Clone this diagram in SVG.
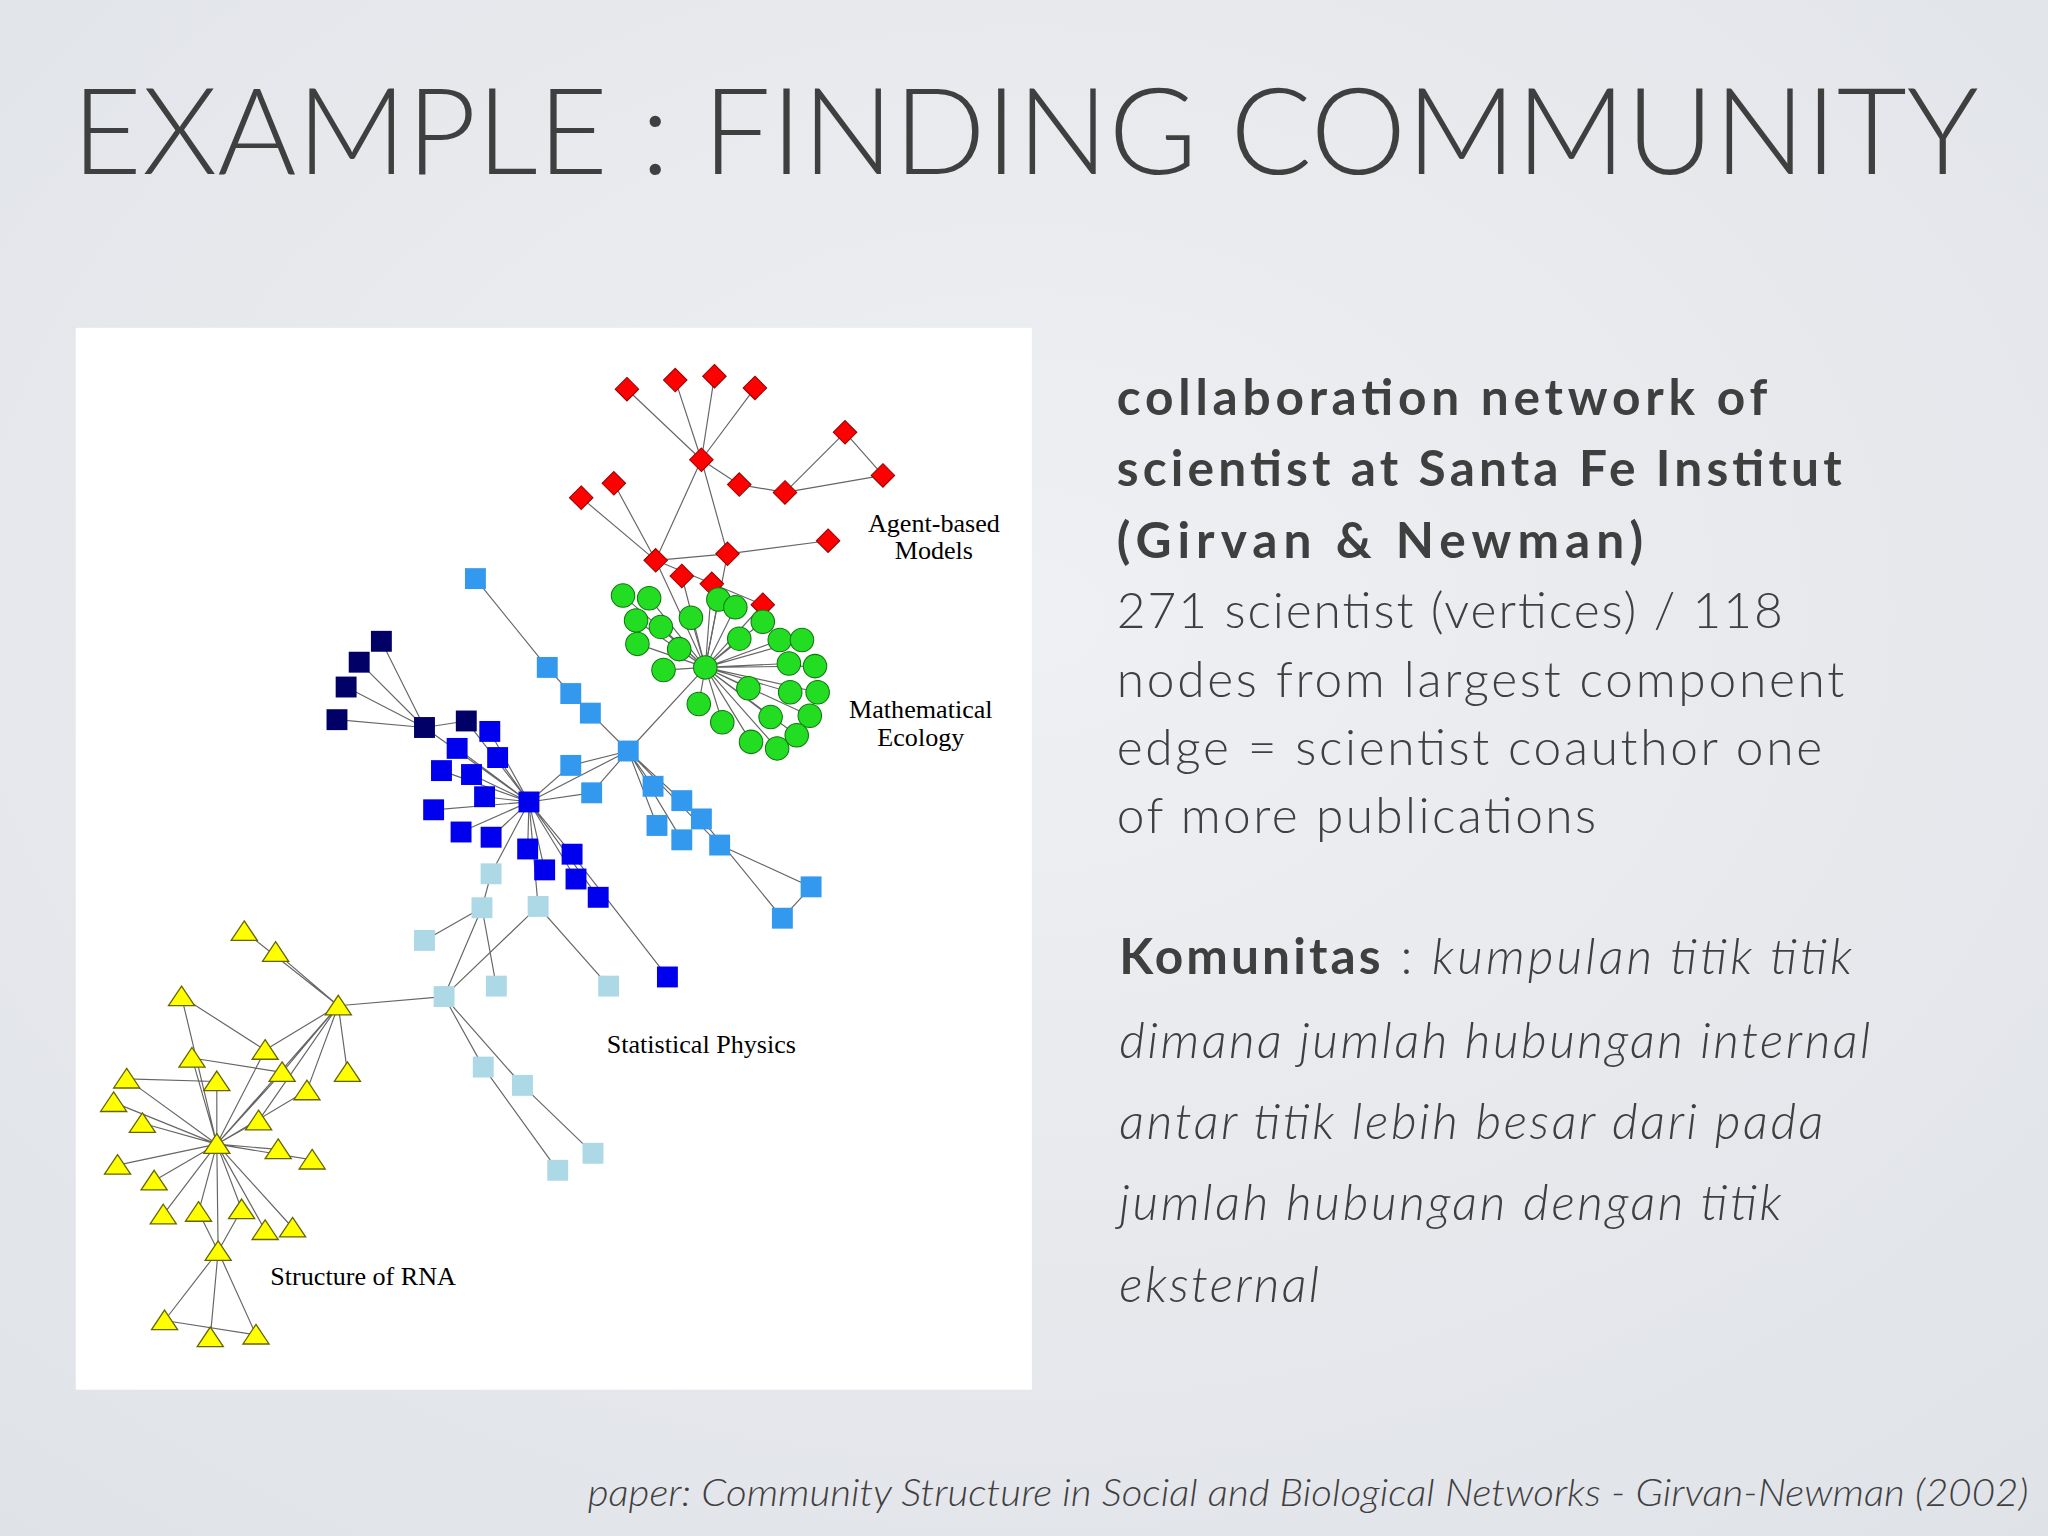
<svg xmlns="http://www.w3.org/2000/svg" width="2048" height="1536" viewBox="0 0 2048 1536">
<defs>
<radialGradient id="bg" cx="0.5" cy="0.4" r="0.8"><stop offset="0" stop-color="#eff0f3"/><stop offset="1" stop-color="#dfe2e7"/></radialGradient>
<polygon id="dia" points="0,-9 9,0 0,9 -9,0" fill="#ff0000" stroke="#990000" stroke-width="0.8"/>
<circle id="cir" r="9" fill="#22dd22" stroke="#117711" stroke-width="0.8"/>
<rect id="sq" x="-8" y="-8" width="16" height="16"/>
<polygon id="tri" points="0,-8 10,7 -10,7" fill="#ffff00" stroke="#666600" stroke-width="1"/>
</defs>
<style>
.t{font-family:"Lato","Open Sans",sans-serif;fill:#3f3f3f}
.lab{font-family:"Liberation Serif",serif;font-size:20px;fill:#000}
.e{stroke:#666;stroke-width:0.9;fill:none}
.nv{fill:#000066}.bl{fill:#0000ee}.mb{fill:#3399ee}.lb{fill:#add8e6}
</style>
<rect width="2048" height="1536" fill="url(#bg)"/>
<g transform="scale(1.30612)">
<text class="t" x="55" y="133" font-size="92" font-weight="300" textLength="1460" lengthAdjust="spacingAndGlyphs" fill="#4a4a4a">EXAMPLE : FINDING COMMUNITY</text>
<rect x="58" y="251" width="732" height="813" fill="#fff"/>
<g id="connectors">
<path class="e" d="M537,352L480,298M537,352L517,291M537,352L547,288M537,352L578,297M537,352L557,424M537,352L566,371M566,371L601,377M601,377L647,331M647,331L676,364M601,377L676,364M502,429L445,381M502,429L470,370M502,429L537,352M557,424L634,414M557,424L502,429M540,511L502,429M540,511L522,441M540,511L545,447M540,511L557,424M540,511L584,463M502,429L584,463"/>
<path class="e" d="M540,511L477,456M540,511L497,458M540,511L529,473M540,511L550,459M540,511L563,465M540,511L584,476M540,511L487,475M540,511L506,480M540,511L488,493M540,511L520,497M540,511L566,489M540,511L597,490M540,511L614,490M540,511L508,513M540,511L573,527M540,511L604,508M540,511L624,510M540,511L626,530M540,511L535,539M540,511L553,553M540,511L590,549M540,511L620,548M540,511L575,568M540,511L595,573M540,511L610,563M540,511L605,530M540,511L481,575"/>
<path class="e" d="M325,557L292,491M325,557L275,507M325,557L265,526M325,557L258,551M357,552L325,557M405,614L325,557M405,614L357,552M405,614L375,560M405,614L381,580M405,614L350,573M405,614L338,590M405,614L361,593M405,614L332,620M405,614L371,610M405,614L353,637M405,614L376,641M405,614L404,650M405,614L417,666M405,614L438,654M405,614L441,673M405,614L458,687M438,654L511,748M405,614L481,575M405,614L437,586M405,614L453,607M364,443L419,511L437,531L452,546L481,575M481,575L500,602M481,575L522,613M481,575L537,627M481,575L503,632M481,575L522,643M481,575L551,647L621,679L599,703M537,627L599,703M437,586L481,575M453,607L481,575"/>
<path class="e" d="M405,614L376,669M376,669L369,695M405,614L412,694L466,755M369,695L325,720M369,695L340,763M369,695L380,755M340,763L259,770M340,763L370,817L427,896M340,763L400,831L454,883M412,694L340,763"/>
<path class="e" d="M187,713L259,770M211,729L259,770M259,770L203,804M259,770L216,821M259,770L266,821M259,770L166,876M259,770L198,858M259,770L235,835M139,763L203,804M166,876L139,763M166,876L147,810M166,876L203,804M166,876L216,821M166,876L97,826M166,876L166,828M166,876L235,835M166,876L87,844M166,876L109,860M166,876L198,858M166,876L213,880M166,876L239,888M166,876L90,892M166,876L118,904M166,876L125,930M166,876L152,928M166,876L185,926M166,876L203,942M166,876L224,940M166,876L167,958M167,958L126,1011M167,958L161,1024M167,958L196,1022M167,958L152,928M167,958L185,926M126,1011L196,1022M147,810L216,821M97,826L166,828"/>
</g>
<g id="nodes-red">
<use href="#dia" x="480" y="298"/><use href="#dia" x="517" y="291"/><use href="#dia" x="547" y="288"/><use href="#dia" x="578" y="297"/><use href="#dia" x="537" y="352"/><use href="#dia" x="566" y="371"/><use href="#dia" x="601" y="377"/><use href="#dia" x="647" y="331"/><use href="#dia" x="676" y="364"/><use href="#dia" x="445" y="381"/><use href="#dia" x="470" y="370"/><use href="#dia" x="502" y="429"/><use href="#dia" x="557" y="424"/><use href="#dia" x="634" y="414"/><use href="#dia" x="522" y="441"/><use href="#dia" x="545" y="447"/><use href="#dia" x="584" y="463"/>
</g>
<g id="nodes-green">
<use href="#cir" x="540" y="511"/><use href="#cir" x="477" y="456"/><use href="#cir" x="497" y="458"/><use href="#cir" x="529" y="473"/><use href="#cir" x="550" y="459"/><use href="#cir" x="563" y="465"/><use href="#cir" x="584" y="476"/><use href="#cir" x="487" y="475"/><use href="#cir" x="506" y="480"/><use href="#cir" x="488" y="493"/><use href="#cir" x="520" y="497"/><use href="#cir" x="566" y="489"/><use href="#cir" x="597" y="490"/><use href="#cir" x="614" y="490"/><use href="#cir" x="508" y="513"/><use href="#cir" x="573" y="527"/><use href="#cir" x="604" y="508"/><use href="#cir" x="624" y="510"/><use href="#cir" x="626" y="530"/><use href="#cir" x="535" y="539"/><use href="#cir" x="553" y="553"/><use href="#cir" x="590" y="549"/><use href="#cir" x="620" y="548"/><use href="#cir" x="575" y="568"/><use href="#cir" x="595" y="573"/><use href="#cir" x="610" y="563"/><use href="#cir" x="605" y="530"/>
</g>
<g id="nodes-navy" class="nv">
<use href="#sq" x="292" y="491"/><use href="#sq" x="275" y="507"/><use href="#sq" x="265" y="526"/><use href="#sq" x="258" y="551"/><use href="#sq" x="325" y="557"/><use href="#sq" x="357" y="552"/>
</g>
<g id="nodes-blue" class="bl">
<use href="#sq" x="375" y="560"/><use href="#sq" x="381" y="580"/><use href="#sq" x="350" y="573"/><use href="#sq" x="338" y="590"/><use href="#sq" x="361" y="593"/><use href="#sq" x="332" y="620"/><use href="#sq" x="371" y="610"/><use href="#sq" x="405" y="614"/><use href="#sq" x="353" y="637"/><use href="#sq" x="376" y="641"/><use href="#sq" x="404" y="650"/><use href="#sq" x="417" y="666"/><use href="#sq" x="438" y="654"/><use href="#sq" x="441" y="673"/><use href="#sq" x="458" y="687"/><use href="#sq" x="511" y="748"/>
</g>
<g id="nodes-midblue" class="mb">
<use href="#sq" x="364" y="443"/><use href="#sq" x="419" y="511"/><use href="#sq" x="437" y="531"/><use href="#sq" x="452" y="546"/><use href="#sq" x="481" y="575"/><use href="#sq" x="437" y="586"/><use href="#sq" x="453" y="607"/><use href="#sq" x="500" y="602"/><use href="#sq" x="522" y="613"/><use href="#sq" x="537" y="627"/><use href="#sq" x="503" y="632"/><use href="#sq" x="522" y="643"/><use href="#sq" x="551" y="647"/><use href="#sq" x="621" y="679"/><use href="#sq" x="599" y="703"/>
</g>
<g id="nodes-lightblue" class="lb">
<use href="#sq" x="376" y="669"/><use href="#sq" x="369" y="695"/><use href="#sq" x="412" y="694"/><use href="#sq" x="325" y="720"/><use href="#sq" x="340" y="763"/><use href="#sq" x="380" y="755"/><use href="#sq" x="466" y="755"/><use href="#sq" x="370" y="817"/><use href="#sq" x="400" y="831"/><use href="#sq" x="427" y="896"/><use href="#sq" x="454" y="883"/>
</g>
<g id="nodes-yellow">
<use href="#tri" x="187" y="713"/><use href="#tri" x="211" y="729"/><use href="#tri" x="259" y="770"/><use href="#tri" x="139" y="763"/><use href="#tri" x="147" y="810"/><use href="#tri" x="203" y="804"/><use href="#tri" x="216" y="821"/><use href="#tri" x="266" y="821"/><use href="#tri" x="97" y="826"/><use href="#tri" x="166" y="828"/><use href="#tri" x="235" y="835"/><use href="#tri" x="87" y="844"/><use href="#tri" x="109" y="860"/><use href="#tri" x="198" y="858"/><use href="#tri" x="166" y="876"/><use href="#tri" x="213" y="880"/><use href="#tri" x="239" y="888"/><use href="#tri" x="90" y="892"/><use href="#tri" x="118" y="904"/><use href="#tri" x="125" y="930"/><use href="#tri" x="152" y="928"/><use href="#tri" x="185" y="926"/><use href="#tri" x="203" y="942"/><use href="#tri" x="224" y="940"/><use href="#tri" x="167" y="958"/><use href="#tri" x="126" y="1011"/><use href="#tri" x="161" y="1024"/><use href="#tri" x="196" y="1022"/>
</g>
<g id="labels" class="lab" text-anchor="middle">
<text x="715" y="407">Agent-based</text><text x="715" y="428">Models</text>
<text x="705" y="550">Mathematical</text><text x="705" y="571">Ecology</text>
<text x="537" y="806">Statistical Physics</text>
<text x="278" y="984">Structure of RNA</text>
</g>
<g id="desc" class="t" font-size="38" lengthAdjust="spacingAndGlyphs">
<text x="855" y="318" font-weight="700" textLength="498">collaboration network of</text>
<text x="855" y="372" font-weight="700" textLength="555">scientist at Santa Fe Institut</text>
<text x="855" y="427" font-weight="700" textLength="403">(Girvan &amp; Newman)</text>
<text x="855" y="481" font-weight="300" textLength="510">271 scientist (vertices) / 118</text>
<text x="855" y="534" font-weight="300" textLength="557">nodes from largest component</text>
<text x="855" y="586" font-weight="300" textLength="540">edge = scientist coauthor one</text>
<text x="855" y="638" font-weight="300" textLength="367">of more publications</text>
<text x="857" y="746" textLength="561"><tspan font-weight="700">Komunitas</tspan><tspan font-weight="300"> : </tspan><tspan font-weight="300" font-style="italic">kumpulan titik titik</tspan></text>
<text x="857" y="810" font-weight="300" font-style="italic" textLength="575">dimana jumlah hubungan internal</text>
<text x="857" y="872" font-weight="300" font-style="italic" textLength="539">antar titik lebih besar dari pada</text>
<text x="857" y="934" font-weight="300" font-style="italic" textLength="507">jumlah hubungan dengan titik</text>
<text x="857" y="997" font-weight="300" font-style="italic" textLength="153">eksternal</text>
</g>
<text class="t" x="450" y="1153" font-size="29" font-weight="300" font-style="italic" textLength="1103" lengthAdjust="spacingAndGlyphs">paper: Community Structure in Social and Biological Networks - Girvan-Newman (2002)</text>
</g>
</svg>
